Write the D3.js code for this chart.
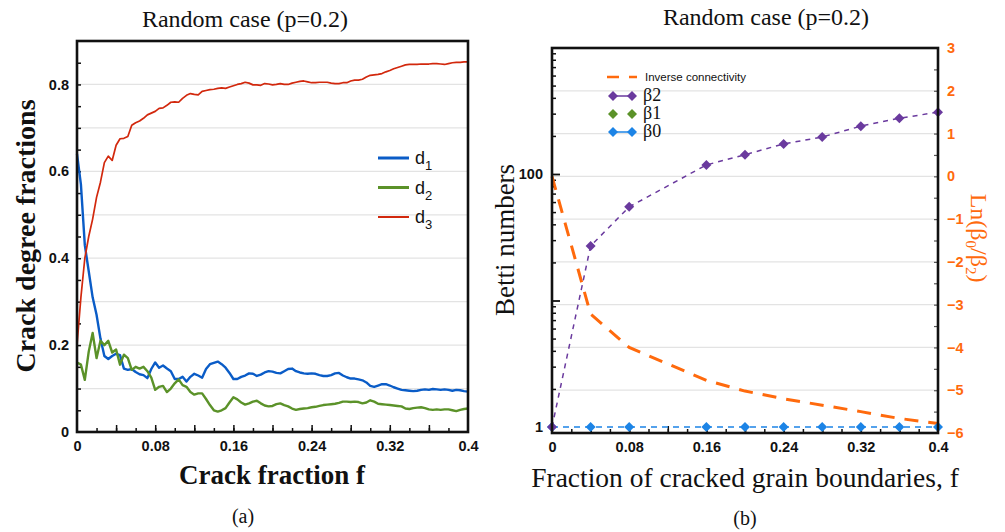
<!DOCTYPE html>
<html>
<head>
<meta charset="utf-8">
<script src="https://cdn.jsdelivr.net/npm/d3@7"></script>
<style>
  body { margin: 0; background: #fff; }
  svg text { fill: #111; }
</style>
</head>
<body>
<svg id="fig" width="1005" height="532"></svg>
<script>
// ---- Panel (a): crack degree fractions vs crack fraction ----
const crackStep = 0.004;
const crackFraction = d3.range(101).map(i => +(i * crackStep).toFixed(3));

const degree1 = [
  0.640, 0.570, 0.430, 0.370, 0.310, 0.270, 0.215, 0.175, 0.168, 0.175,
  0.180, 0.177, 0.146, 0.143, 0.145, 0.138, 0.133, 0.131, 0.124, 0.145,
  0.160, 0.148, 0.153, 0.146, 0.140, 0.122, 0.122, 0.127, 0.116, 0.127,
  0.134, 0.130, 0.125, 0.145, 0.156, 0.159, 0.162, 0.156, 0.148, 0.136,
  0.122, 0.122, 0.127, 0.130, 0.135, 0.134, 0.129, 0.132, 0.137, 0.140,
  0.139, 0.136, 0.135, 0.140, 0.145, 0.146, 0.140, 0.137, 0.135, 0.134,
  0.135, 0.134, 0.131, 0.129, 0.129, 0.131, 0.135, 0.136, 0.130, 0.126,
  0.123, 0.123, 0.121, 0.119, 0.114, 0.106, 0.104, 0.107, 0.110, 0.110,
  0.107, 0.103, 0.100, 0.097, 0.096, 0.095, 0.094, 0.095, 0.097, 0.098,
  0.097, 0.099, 0.098, 0.097, 0.098, 0.097, 0.095, 0.097, 0.096, 0.094,
  0.093
];

const degree2 = [
  0.160, 0.155, 0.120, 0.185, 0.228, 0.170, 0.210, 0.200, 0.210, 0.183,
  0.190, 0.155, 0.178, 0.170, 0.143, 0.150, 0.146, 0.150, 0.140, 0.125,
  0.097, 0.104, 0.106, 0.092, 0.100, 0.112, 0.121, 0.108, 0.104, 0.092,
  0.086, 0.089, 0.089, 0.076, 0.062, 0.050, 0.047, 0.050, 0.055, 0.068,
  0.080, 0.075, 0.068, 0.063, 0.066, 0.070, 0.072, 0.066, 0.061, 0.059,
  0.060, 0.064, 0.066, 0.062, 0.059, 0.054, 0.051, 0.053, 0.054, 0.055,
  0.057, 0.058, 0.060, 0.062, 0.063, 0.064, 0.065, 0.067, 0.070, 0.070,
  0.069, 0.070, 0.069, 0.066, 0.068, 0.073, 0.070, 0.065, 0.064, 0.063,
  0.062, 0.061, 0.060, 0.059, 0.054, 0.053, 0.055, 0.056, 0.057, 0.055,
  0.052, 0.051, 0.052, 0.051, 0.052, 0.052, 0.050, 0.048, 0.051, 0.053,
  0.054
];

const degree3 = [
  0.200, 0.310, 0.400, 0.450, 0.490, 0.540, 0.575, 0.620, 0.635, 0.625,
  0.660, 0.675, 0.676, 0.680, 0.706, 0.712, 0.716, 0.722, 0.730, 0.734,
  0.738, 0.745, 0.746, 0.752, 0.759, 0.760, 0.759, 0.768, 0.775, 0.779,
  0.777, 0.776, 0.784, 0.786, 0.788, 0.789, 0.791, 0.792, 0.791, 0.794,
  0.797, 0.800, 0.802, 0.805, 0.803, 0.799, 0.799, 0.798, 0.802, 0.801,
  0.799, 0.800, 0.802, 0.800, 0.800, 0.803, 0.805, 0.807, 0.808, 0.806,
  0.804, 0.804, 0.805, 0.805, 0.805, 0.803, 0.802, 0.802, 0.804, 0.804,
  0.808, 0.810, 0.810, 0.812, 0.817, 0.821, 0.822, 0.823, 0.825, 0.829,
  0.832, 0.836, 0.839, 0.842, 0.845, 0.846, 0.846, 0.846, 0.847, 0.847,
  0.847, 0.848, 0.848, 0.847, 0.846, 0.848, 0.850, 0.851, 0.851, 0.852,
  0.852
];

const degreeNames = ["1", "2", "3"];
const degreeColors = ["#0a5cc7", "#5b9229", "#d2280d"];
const xTickLabelsA = [0, 0.08, 0.16, 0.24, 0.32, 0.4];
const yTickLabelsA = [0, 0.2, 0.4, 0.6, 0.8];

// ---- Panel (b): Betti numbers and inverse connectivity ----
const bettiFraction = [0, 0.04, 0.08, 0.16, 0.20, 0.24, 0.28, 0.32, 0.36, 0.40];
const beta2 = [1, 27, 55, 118, 142, 173, 196, 239, 276, 308];
const beta1 = [0, 0, 0, 0, 0, 0, 0, 0, 0, 0];
const beta0 = [1, 1, 1, 1, 1, 1, 1, 1, 1, 1];
const inverseConnectivity = [0, -3.22, -4.0, -4.77, -5.02, -5.2, -5.35, -5.5, -5.66, -5.78];
const xTickLabelsB = [0, 0.08, 0.16, 0.24, 0.32, 0.4];
const lnTickLabels = [-6, -5, -4, -3, -2, -1, 0, 1, 2, 3];
const bettiTickLabels = [1, 100];

const svg = d3.select("#fig");
const serif = "'Liberation Serif', 'DejaVu Serif', serif";
const sans = "'Liberation Sans', Arial, sans-serif";
const fmtTick = v => (v === 0 ? "0" : String(+v.toFixed(2)));

// ================= Panel (a) =================
const xA = d3.scaleLinear().domain([0, 0.4]).range([77, 468]);
const yA = d3.scaleLinear().domain([0, 0.9]).range([432, 41]);
const gA = svg.append("g");

// horizontal grid every 0.1
gA.append("g").selectAll("line")
  .data(d3.range(1, 9).map(i => i / 10))
  .join("line")
  .attr("x1", xA(0)).attr("x2", xA(0.4))
  .attr("y1", d => yA(d)).attr("y2", d => yA(d))
  .attr("stroke", "#e3e3e3").attr("stroke-width", 1.2);

// inward ticks
gA.append("g").attr("transform", `translate(${xA(0)},0)`)
  .call(d3.axisLeft(yA).tickValues(d3.range(1, 18).map(i => i * 0.05)).tickSize(-4).tickFormat(""))
  .call(g => g.select(".domain").remove())
  .call(g => g.selectAll("line").attr("stroke", "#111").attr("stroke-width", 1.5));
gA.append("g").attr("transform", `translate(0,${yA(0)})`)
  .call(d3.axisBottom(xA).tickValues(d3.range(1, 20).map(i => i * 0.02)).tickSize(-4).tickFormat(""))
  .call(g => g.select(".domain").remove())
  .call(g => g.selectAll("line").attr("stroke", "#111").attr("stroke-width", 1.5));
gA.append("g").attr("transform", `translate(0,${yA(0)})`)
  .call(d3.axisBottom(xA).tickValues(d3.range(1, 10).map(i => i * 0.04)).tickSize(-7).tickFormat(""))
  .call(g => g.select(".domain").remove())
  .call(g => g.selectAll("line").attr("stroke", "#111").attr("stroke-width", 1.5));

// tick labels
gA.append("g").attr("transform", `translate(${xA(0)},0)`)
  .call(d3.axisLeft(yA).tickValues(yTickLabelsA).tickSize(0).tickPadding(8).tickFormat(fmtTick))
  .call(g => g.select(".domain").remove())
  .call(g => g.selectAll("text").attr("font-family", sans).attr("font-weight", "bold")
    .attr("font-size", 14.5).attr("fill", "#111"));
gA.append("g").attr("transform", `translate(0,${yA(0)})`)
  .call(d3.axisBottom(xA).tickValues(xTickLabelsA).tickSize(0).tickPadding(9).tickFormat(fmtTick))
  .call(g => g.select(".domain").remove())
  .call(g => g.selectAll("text").attr("font-family", sans).attr("font-weight", "bold")
    .attr("font-size", 14.5).attr("fill", "#111"));

// curves
const degreeSeries = [degree1, degree2, degree3];
const lineA = d3.line().x((d, i) => xA(crackFraction[i])).y(d => yA(d));
degreeSeries.forEach((s, k) => {
  gA.append("path").datum(s)
    .attr("d", lineA)
    .attr("fill", "none")
    .attr("stroke", degreeColors[k])
    .attr("stroke-width", k === 2 ? 1.7 : 2.4)
    .attr("stroke-linejoin", "round");
});

// frame
gA.append("rect")
  .attr("x", xA(0)).attr("y", yA(0.9))
  .attr("width", xA(0.4) - xA(0)).attr("height", yA(0) - yA(0.9))
  .attr("fill", "none").attr("stroke", "#111").attr("stroke-width", 2.6);

// legend
const legA = gA.append("g").attr("transform", "translate(378,158)");
degreeNames.forEach((n, k) => {
  const row = legA.append("g").attr("transform", `translate(0,${k * 29.5})`);
  row.append("line").attr("x1", 0).attr("x2", 31).attr("y1", 0).attr("y2", 0)
    .attr("stroke", degreeColors[k]).attr("stroke-width", k === 2 ? 2 : 3);
  const t = row.append("text").attr("x", 37).attr("y", 6)
    .attr("font-family", sans).attr("font-size", 18);
  t.append("tspan").text("d");
  t.append("tspan").attr("dy", 6).attr("font-size", 13).text(n);
});

// titles and labels
svg.append("text").attr("x", 245).attr("y", 27).attr("text-anchor", "middle")
  .attr("font-family", serif).attr("font-size", 24).text("Random case (p=0.2)");
svg.append("text").attr("transform", "translate(35,236) rotate(-90)")
  .attr("text-anchor", "middle").attr("font-family", serif).attr("font-weight", "bold")
  .attr("font-size", 28).text("Crack degree fractions");
svg.append("text").attr("x", 272).attr("y", 484).attr("text-anchor", "middle")
  .attr("font-family", serif).attr("font-weight", "bold").attr("font-size", 27)
  .text("Crack fraction f");
svg.append("text").attr("x", 243).attr("y", 523).attr("text-anchor", "middle")
  .attr("font-family", serif).attr("font-size", 20).text("(a)");

// ================= Panel (b) =================
const xB = d3.scaleLinear().domain([0, 0.4]).range([552, 938]);
const yLn = d3.scaleLinear().domain([-6, 3]).range([433, 48]);
const yBetti = d3.scaleLog().domain([1, 1000]).range([427, 47.5]);
const gB = svg.append("g");
const orange = "#ff6a0d";

gB.append("g").selectAll("line")
  .data(d3.range(-5, 3))
  .join("line")
  .attr("x1", xB(0)).attr("x2", xB(0.4))
  .attr("y1", d => yLn(d)).attr("y2", d => yLn(d))
  .attr("stroke", "#e3e3e3").attr("stroke-width", 1.2);

// left log ticks (inward)
const logMinor = [];
[1, 10, 100].forEach(dec => d3.range(2, 10).forEach(m => logMinor.push(dec * m)));
gB.append("g").attr("transform", `translate(${xB(0)},0)`)
  .call(d3.axisLeft(yBetti).tickValues(logMinor).tickSize(-4).tickFormat(""))
  .call(g => g.select(".domain").remove())
  .call(g => g.selectAll("line").attr("stroke", "#111").attr("stroke-width", 1.5));
gB.append("g").attr("transform", `translate(${xB(0)},0)`)
  .call(d3.axisLeft(yBetti).tickValues([10, 100]).tickSize(-8).tickFormat(""))
  .call(g => g.select(".domain").remove())
  .call(g => g.selectAll("line").attr("stroke", "#111").attr("stroke-width", 1.8));
gB.append("g").attr("transform", `translate(${xB(0)},0)`)
  .call(d3.axisLeft(yBetti).tickValues(bettiTickLabels).tickSize(0).tickPadding(9).tickFormat(d3.format("d")))
  .call(g => g.select(".domain").remove())
  .call(g => g.selectAll("text").attr("font-family", sans).attr("font-weight", "bold")
    .attr("font-size", 14.5).attr("fill", "#111"));

// right ticks (inward)
gB.append("g").attr("transform", `translate(${xB(0.4)},0)`)
  .call(d3.axisRight(yLn).tickValues(d3.range(-5.5, 3, 0.5)).tickSize(-4).tickFormat(""))
  .call(g => g.select(".domain").remove())
  .call(g => g.selectAll("line").attr("stroke", "#555").attr("stroke-width", 1.2));
gB.append("g").attr("transform", `translate(${xB(0.4)},0)`)
  .call(d3.axisRight(yLn).tickValues(lnTickLabels).tickSize(0).tickPadding(9).tickFormat(d3.format("d")))
  .call(g => g.select(".domain").remove())
  .call(g => g.selectAll("text").attr("font-family", sans).attr("font-weight", "bold")
    .attr("font-size", 14.5).attr("fill", orange).style("fill", orange));

// bottom ticks
gB.append("g").attr("transform", `translate(0,${yLn(-6)})`)
  .call(d3.axisBottom(xB).tickValues(d3.range(1, 20).map(i => i * 0.02)).tickSize(-4).tickFormat(""))
  .call(g => g.select(".domain").remove())
  .call(g => g.selectAll("line").attr("stroke", "#111").attr("stroke-width", 1.5));
gB.append("g").attr("transform", `translate(0,${yLn(-6)})`)
  .call(d3.axisBottom(xB).tickValues(d3.range(1, 10).map(i => i * 0.04)).tickSize(-7).tickFormat(""))
  .call(g => g.select(".domain").remove())
  .call(g => g.selectAll("line").attr("stroke", "#111").attr("stroke-width", 1.5));
gB.append("g").attr("transform", `translate(0,${yLn(-6)})`)
  .call(d3.axisBottom(xB).tickValues(xTickLabelsB).tickSize(0).tickPadding(9).tickFormat(fmtTick))
  .call(g => g.select(".domain").remove())
  .call(g => g.selectAll("text").attr("font-family", sans).attr("font-weight", "bold")
    .attr("font-size", 14.5).attr("fill", "#111"));

// inverse connectivity (right axis)
gB.append("path").datum(inverseConnectivity)
  .attr("d", d3.line().x((d, i) => xB(bettiFraction[i])).y(d => yLn(d)))
  .attr("fill", "none").attr("stroke", orange).attr("stroke-width", 3)
  .attr("stroke-dasharray", "14,10");

// Betti series (left log axis)
const diamond = "M0,-5L5,0L0,5L-5,0Z";
const bettiSeries = [
  { values: beta0, color: "#1c84e6", dash: "6,5", line: true },
  { values: beta1, color: "#5b9229", dash: null, line: false },
  { values: beta2, color: "#6a3a9e", dash: "5,5", line: true }
];
bettiSeries.forEach(s => {
  const pts = s.values.map((v, i) => [bettiFraction[i], v]).filter(p => p[1] > 0);
  if (s.line) {
    gB.append("path").datum(pts)
      .attr("d", d3.line().x(p => xB(p[0])).y(p => yBetti(p[1])))
      .attr("fill", "none").attr("stroke", s.color).attr("stroke-width", 1.5)
      .attr("stroke-dasharray", s.dash);
  }
  gB.append("g").selectAll("path").data(pts).join("path")
    .attr("transform", p => `translate(${xB(p[0])},${yBetti(p[1])})`)
    .attr("d", diamond).attr("fill", s.color);
});

// frame
gB.append("rect")
  .attr("x", xB(0)).attr("y", yLn(3))
  .attr("width", xB(0.4) - xB(0)).attr("height", yLn(-6) - yLn(3))
  .attr("fill", "none").attr("stroke", "#111").attr("stroke-width", 2.6);

// legend
const legB = gB.append("g");
legB.append("line").attr("x1", 607).attr("x2", 637).attr("y1", 77).attr("y2", 77)
  .attr("stroke", orange).attr("stroke-width", 2.5).attr("stroke-dasharray", "12,10");
legB.append("text").attr("x", 645).attr("y", 81).attr("font-family", sans)
  .attr("font-size", 11.5).text("Inverse connectivity");
const legRows = [
  { label: "2", color: "#6a3a9e", line: true, y: 96 },
  { label: "1", color: "#5b9229", line: false, y: 114 },
  { label: "0", color: "#1c84e6", line: true, y: 132 }
];
legRows.forEach(r => {
  if (r.line) {
    legB.append("line").attr("x1", 613).attr("x2", 632).attr("y1", r.y).attr("y2", r.y)
      .attr("stroke", r.color).attr("stroke-width", 1.5);
  }
  [613, 632].forEach(x => legB.append("path")
    .attr("transform", `translate(${x},${r.y})`)
    .attr("d", diamond).attr("fill", r.color));
  legB.append("text").attr("x", 643).attr("y", r.y + 5).attr("font-family", serif)
    .attr("font-size", 18).text("β" + r.label);
});

// titles and labels
svg.append("text").attr("x", 766).attr("y", 25).attr("text-anchor", "middle")
  .attr("font-family", serif).attr("font-size", 24).text("Random case (p=0.2)");
svg.append("text").attr("transform", "translate(514,240) rotate(-90)")
  .attr("text-anchor", "middle").attr("font-family", serif).attr("font-size", 27)
  .text("Betti numbers");
const lnLabel = svg.append("text").attr("transform", "translate(971,238) rotate(90)")
  .attr("text-anchor", "middle").attr("font-family", serif).attr("font-size", 24)
  .style("fill", orange);
lnLabel.append("tspan").text("Ln(β");
lnLabel.append("tspan").attr("dy", 5).attr("font-size", 15).text("0");
lnLabel.append("tspan").attr("dy", -5).text("/β");
lnLabel.append("tspan").attr("dy", 5).attr("font-size", 15).text("2");
lnLabel.append("tspan").attr("dy", -5).text(")");
svg.append("text").attr("x", 745).attr("y", 487).attr("text-anchor", "middle")
  .attr("font-family", serif).attr("font-size", 27.5)
  .text("Fraction of cracked grain boundaries, f");
svg.append("text").attr("x", 745).attr("y", 525).attr("text-anchor", "middle")
  .attr("font-family", serif).attr("font-size", 20).text("(b)");
</script>
</body>
</html>
